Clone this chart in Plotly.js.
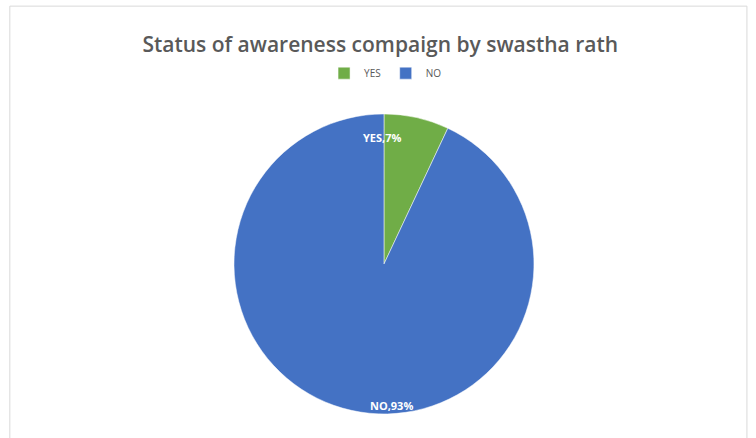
<!DOCTYPE html>
<html>
<head>
<meta charset="utf-8">
<script src="https://cdn.plot.ly/plotly-3.0.1.min.js"></script>
<style>html,body{margin:0;padding:0;background:#fff}#chart{width:756px;height:438px}</style>
</head>
<body>
<div id="chart"></div>
<script>
const labels = ["YES", "NO"];
const values = [7, 93];
const colors = ["#70AD47", "#4472C4"];
const titleText = "Status of awareness compaign by swastha rath";
// data-label anchor spots (paper fractions), Excel "inside end" look
const labelX = [0.5066, 0.5185];
const labelY = [0.687, 0.0753];

const total = values.reduce((a, b) => a + b, 0);

const trace = {
  type: "pie",
  labels: labels,
  values: values,
  marker: {colors: colors, line: {color: "#ffffff", width: 0.5}},
  sort: false,
  direction: "clockwise",
  rotation: 0,
  textinfo: "none",
  hoverinfo: "label+percent",
  domain: {x: [0.3095, 0.7063], y: [0.0457, 0.749]}
};

const annotations = labels.map((l, i) => ({
  xref: "paper", yref: "paper", x: labelX[i], y: labelY[i],
  xanchor: "center", yanchor: "middle", showarrow: false,
  text: l + "," + Math.round(values[i] / total * 100) + "%",
  font: {family: "Open Sans, Arial, sans-serif", size: 11, color: "#ffffff", weight: "bold"}
}));

const layout = {
  width: 756, height: 438,
  margin: {l: 0, r: 0, t: 0, b: 0},
  paper_bgcolor: "#ffffff",
  title: {text: titleText, x: 0.503, xanchor: "center", y: 0.897, yanchor: "middle",
          font: {family: "Open Sans, Arial, sans-serif", size: 21, color: "#595959", weight: 600}},
  showlegend: true,
  legend: {orientation: "h", x: 0.51, xanchor: "center", y: 0.833, yanchor: "middle",
           font: {family: "Open Sans, Arial, sans-serif", size: 10, color: "#595959"},
           itemwidth: 30, traceorder: "normal"},
  annotations: annotations,
  shapes: [{type: "rect", xref: "paper", yref: "paper", x0: 0.013, x1: 0.988, y0: -0.01, y1: 0.986,
            line: {color: "#d9d9d9", width: 1}}]
};

Plotly.newPlot("chart", [trace], layout, {displayModeBar: false, staticPlot: true});
</script>
</body>
</html>
